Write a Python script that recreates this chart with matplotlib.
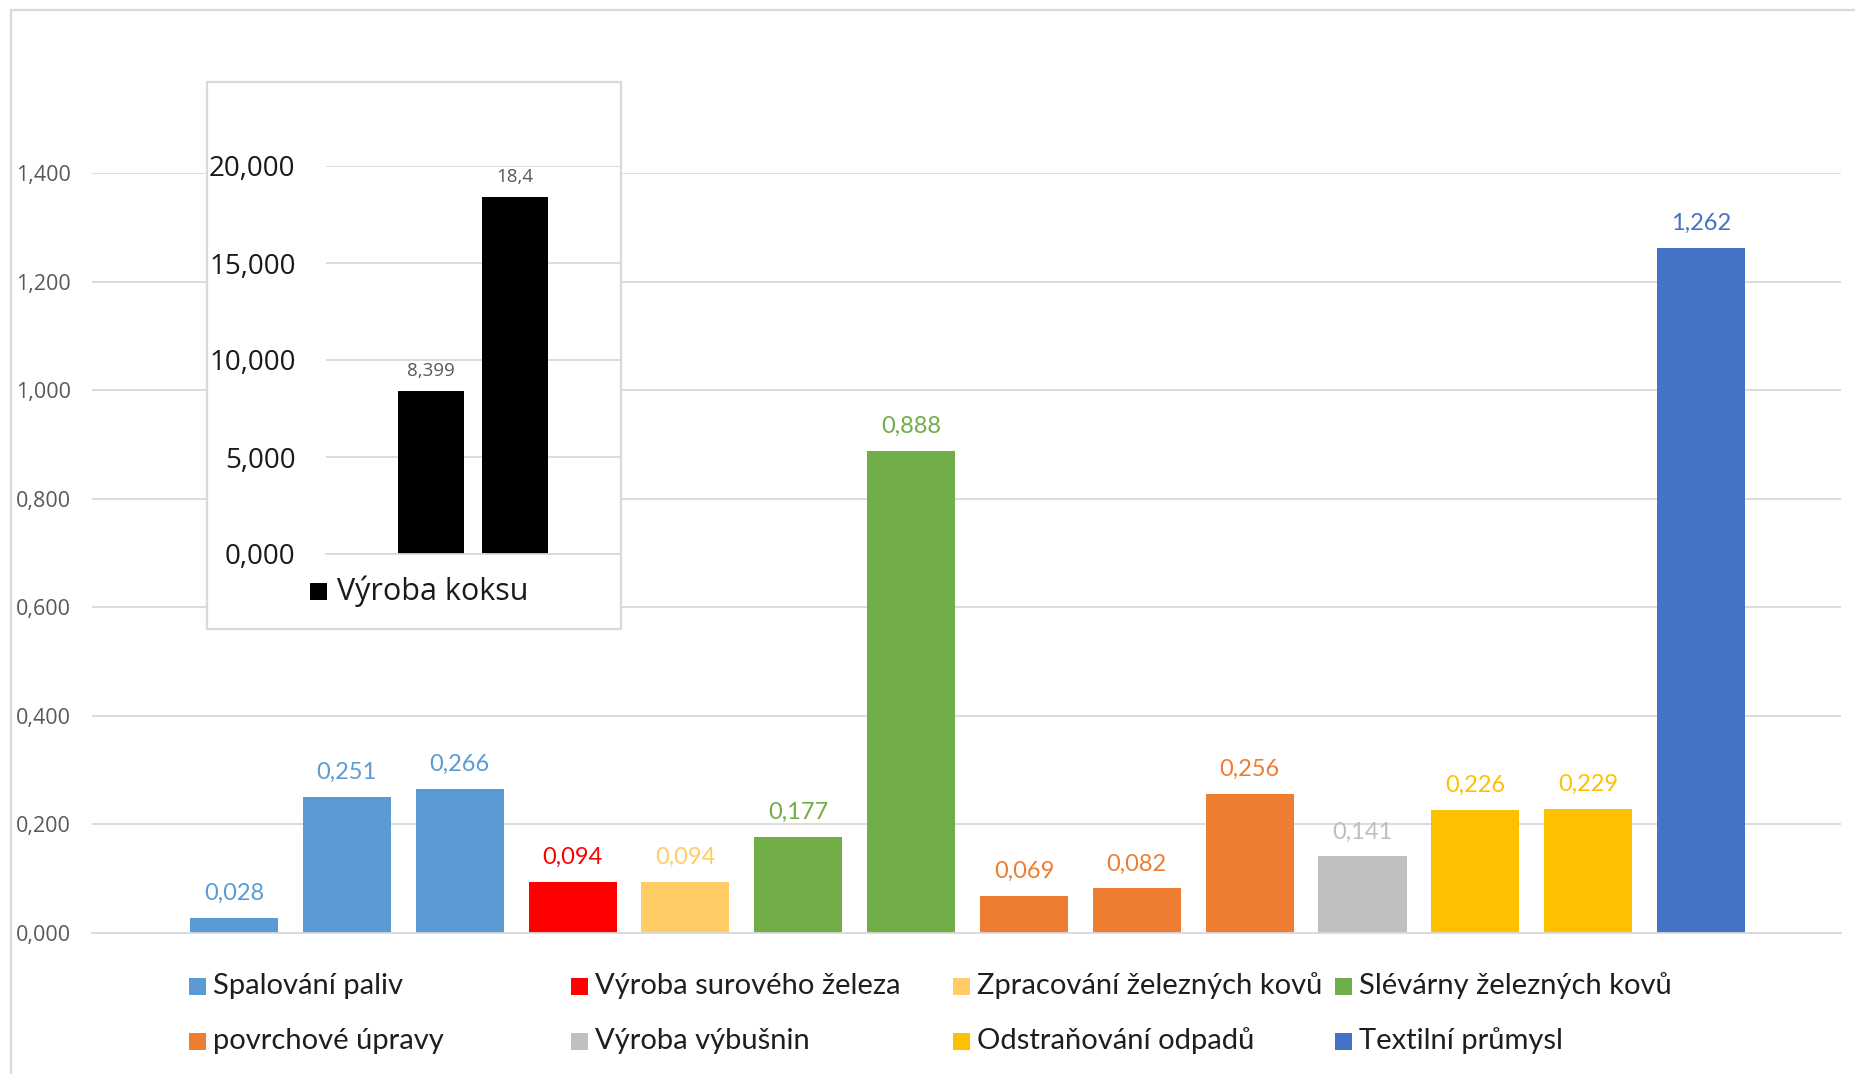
import matplotlib.pyplot as plt
import matplotlib
from matplotlib.patches import Rectangle
from matplotlib.ticker import FuncFormatter, MultipleLocator

matplotlib.rcParams.update({
    'font.family': 'Open Sans',
    'axes.spines.top': False,
    'axes.spines.right': False,
    'axes.spines.left': False,
})

# ============================================================
# DATA
# ============================================================
values = [0.028, 0.251, 0.266, 0.094, 0.094, 0.177, 0.888,
          0.069, 0.082, 0.256, 0.141, 0.226, 0.229, 1.262]
bar_group = [0, 0, 0, 1, 2, 3, 3, 4, 4, 4, 5, 6, 6, 7]

group_names = ['Spalování paliv', 'Výroba surového železa',
               'Zpracování železných kovů', 'Slévárny železných kovů',
               'povrchové úpravy', 'Výroba výbušnin',
               'Odstraňování odpadů', 'Textilní průmysl']
group_colors = ['#5B9BD5', '#FF0000', '#FFCC66', '#70AD47',
                '#ED7D31', '#BFBFBF', '#FFC000', '#4472C4']

coke_name = 'Výroba koksu'
coke_values = [8.399, 18.4]

W, H = 1856, 1074
GRID = '#D9D9D9'


def fx(px):
    return px / W


def fy(py):
    return 1 - py / H


def czech(v, nd=3):
    return f'{v:.{nd}f}'.replace('.', ',')


fig = plt.figure(figsize=(W / 100, H / 100), dpi=100)

# outer chart frame (runs off the right/bottom edge)
fig.patches.append(Rectangle((fx(11), fy(H + 20)), fx(W), fy(10) - fy(H + 20),
                             transform=fig.transFigure, facecolor='none',
                             edgecolor=GRID, linewidth=1.6, zorder=0))

# ============================================================
# Main chart
# ============================================================
ax = fig.add_axes([fx(92), fy(933), fx(1841) - fx(92), fy(173) - fy(933)])
ax.set_facecolor('none')
x = list(range(len(values)))
colors = [group_colors[g] for g in bar_group]
bars = ax.bar(x, values, width=0.78, color=colors, zorder=2)

for bar, val, col in zip(bars, values, colors):
    ax.annotate(czech(val), (bar.get_x() + bar.get_width() / 2, val),
                xytext=(0, 13), textcoords='offset points', ha='center',
                va='baseline', fontsize=17, family='Lato', color=col,
                annotation_clip=False)

ax.set_xlim(-1.258, 14.24)
ax.set_ylim(0, 1.4)
ax.yaxis.set_major_locator(MultipleLocator(0.2))
ax.yaxis.set_major_formatter(FuncFormatter(lambda v, p: czech(v)))
ax.grid(axis='y', color=GRID, linewidth=1.3, zorder=0)
ax.set_axisbelow(True)
ax.set_xticks([])
ax.spines['bottom'].set_color(GRID)
ax.spines['bottom'].set_linewidth(1.3)
ax.tick_params(axis='y', length=0, pad=15, labelsize=15.5, labelcolor='#595959')

# legend laid out in a 4x2 grid like the spreadsheet original
col_x = [189, 571, 953, 1335]
row_y = [986, 1041]
for i, (name, col) in enumerate(zip(group_names, group_colors)):
    cx, cy = col_x[i % 4], row_y[i // 4]
    fig.patches.append(Rectangle((fx(cx), fy(cy + 9)), fx(17), fy(0) - fy(17),
                                 transform=fig.transFigure, facecolor=col,
                                 edgecolor='none'))
    fig.text(fx(cx + 24), fy(cy), name, fontsize=21, family='Lato',
             color='#1e1e1e', ha='left', va='center')

# ============================================================
# Inset: coke production (different scale)
# ============================================================
ins = fig.add_axes([fx(326), fy(554), fx(621) - fx(326), fy(166) - fy(554)])
ins.set_facecolor('none')
ins.add_patch(Rectangle((fx(207), fy(629)), fx(621) - fx(207), fy(82) - fy(629),
                        transform=fig.transFigure, facecolor='white',
                        edgecolor=GRID, linewidth=1.6, zorder=0, clip_on=False))
cb = ins.bar([0, 1], coke_values, width=0.78, color='black', zorder=2)
for bar, val in zip(cb, coke_values):
    ins.annotate(f'{val:g}'.replace('.', ','),
                 (bar.get_x() + bar.get_width() / 2, val),
                 xytext=(0, 11), textcoords='offset points', ha='center',
                 va='baseline', fontsize=13.5, color='#595959',
                 annotation_clip=False)
ins.set_xlim(-1.24, 2.25)
ins.set_ylim(0, 20)
ins.yaxis.set_major_locator(MultipleLocator(5))
ins.yaxis.set_major_formatter(FuncFormatter(lambda v, p: czech(v)))
ins.grid(axis='y', color=GRID, linewidth=1.3, zorder=0.5)
ins.set_axisbelow(True)
ins.set_xticks([])
ins.spines['bottom'].set_color(GRID)
ins.spines['bottom'].set_linewidth(1.3)
ins.tick_params(axis='y', length=0, pad=22, labelsize=20, labelcolor='#1a1a1a')

fig.patches.append(Rectangle((fx(310), fy(600)), fx(17), fy(0) - fy(17),
                             transform=fig.transFigure, facecolor='black',
                             edgecolor='none', zorder=5))
fig.text(fx(337), fy(591), coke_name, fontsize=22, color='#1a1a1a',
         ha='left', va='center', zorder=5)

plt.savefig('out.png', dpi=100)
plt.close()
